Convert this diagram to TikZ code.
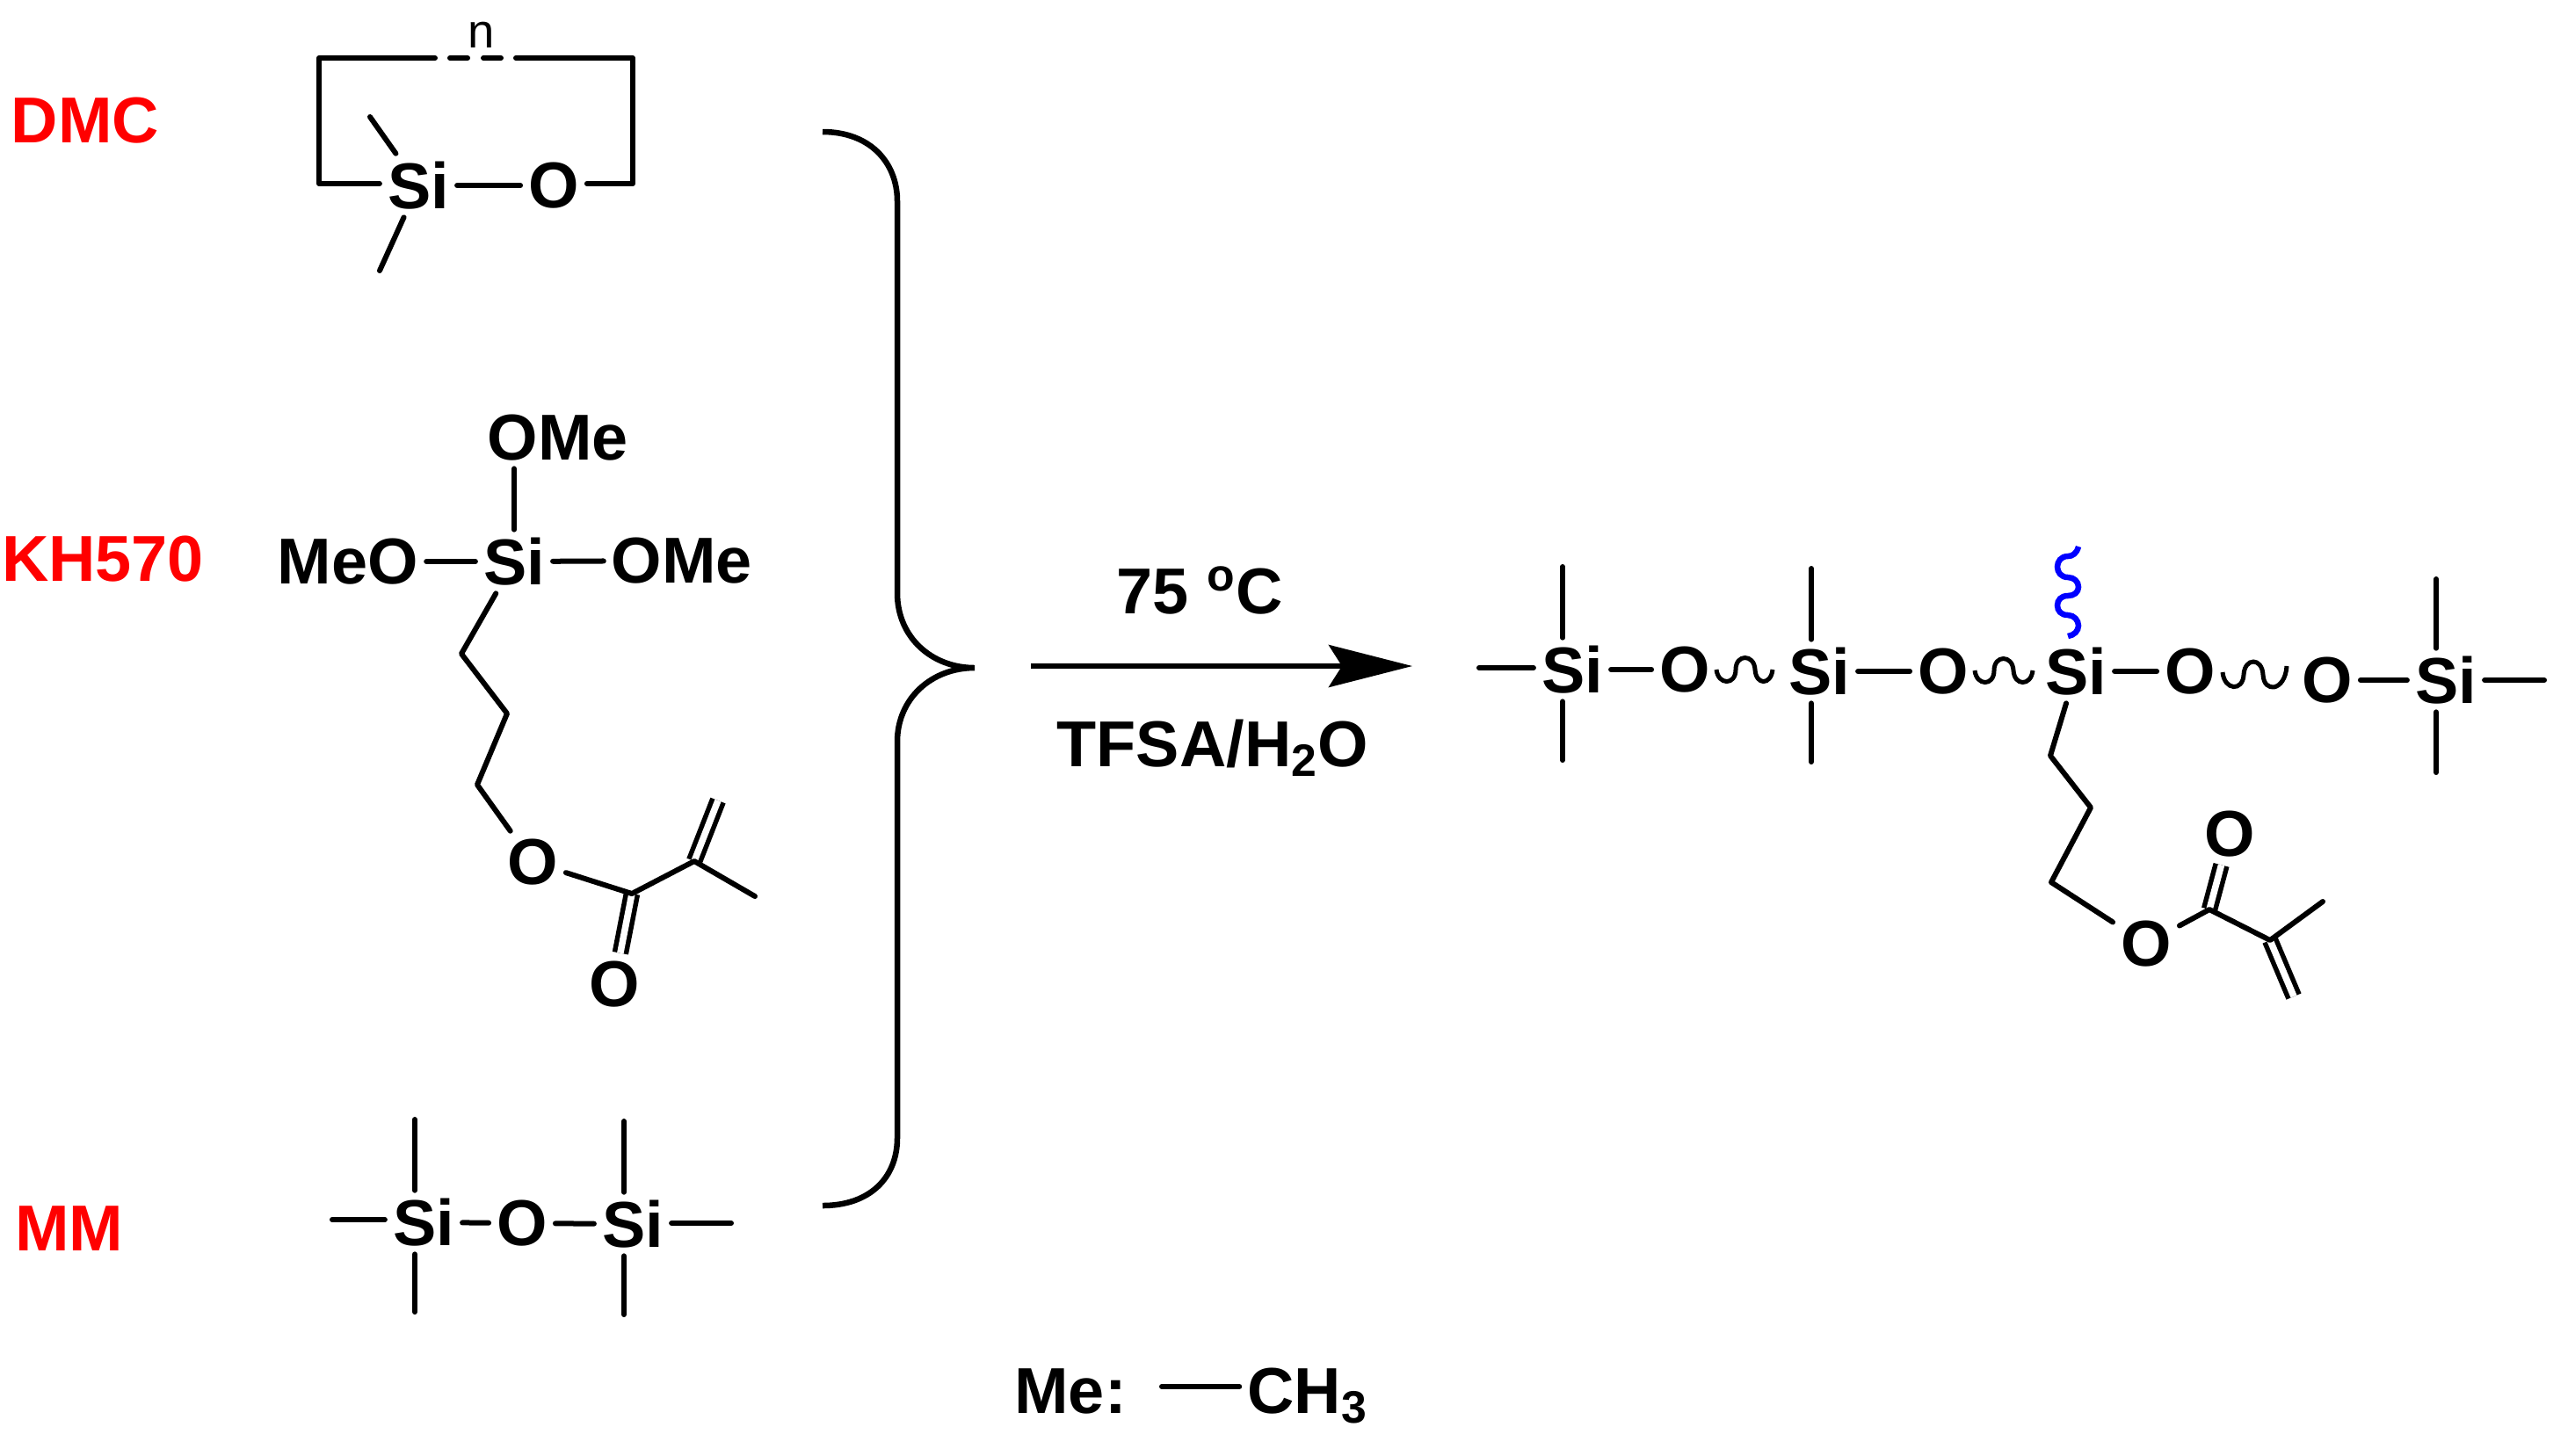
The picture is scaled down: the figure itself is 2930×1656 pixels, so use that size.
\documentclass[tikz,border=0pt]{standalone}
\usepackage{fontspec}
\setmainfont{Liberation Sans}
\usetikzlibrary{arrows.meta}
\begin{document}
\begin{tikzpicture}[x=0.01cm,y=-0.01cm,%
% common options for atoms and labels:
atom/.style = {font=\fontsize{21}{24}\selectfont\bfseries, inner sep=0.085cm},
tag/.style = {atom, text=red, inner sep=0},
% common options for the bonds:
bond/.style = {line width=0.06cm, line cap=round, line join=round},
twin/.style = {line width=0.055cm, double, double distance=0.075cm},
wave/.style = {line width=0.05cm}]
\useasboundingbox (0,0) rectangle (2930,1656);
% names of the reactants
\node[tag] (T1) at (97,137) {DMC};
\node[tag] (T2) at (117,636) {KH570};
\node[tag] (T3) at (79,1398) {MM};
% DMC
\node[atom] (D1) at (476,211) {Si};
\node[atom] (D2) at (630,211) {O};
\node[inner sep=0,font=\fontsize{15.5}{18}\selectfont] (D3) at (548,40) {n};
\coordinate (D4) at (421,133);
\coordinate (D5) at (432,308);
\coordinate (E1) at (363,209);
\coordinate (E2) at (363,66);
\coordinate (E3) at (495,66);
\coordinate (E4) at (512,66);
\coordinate (E5) at (570,66);
\coordinate (E6) at (587,66);
\coordinate (E7) at (720,66);
\coordinate (E8) at (720,209);
\draw[bond] (D1) -- (D2);
\draw[bond] (D1) -- (D4);
\draw[bond] (D1) -- (D5);
\draw[bond] (D1.west |- E1) -- (E1) -- (E2) -- (E3);
\draw[bond,dash pattern=on 0.2cm off 0.18cm] (E4) -- (E5);
\draw[bond] (E6) -- (E7) -- (E8) -- (D2.east |- E8);
% KH570
\node[atom] (K1) at (585,639) {Si};
\node[atom] (K2) at (635,498) {OMe};
\node[atom] (K3) at (396,639) {MeO};
\node[atom] (K4) at (776,638) {OMe};
\node[atom] (K5) at (606,981) {O};
\node[atom] (K6) at (699,1120) {O};
\coordinate (L1) at (525,744);
\coordinate (L2) at (577,812);
\coordinate (L3) at (543,893);
\coordinate (L4) at (719,1017);
\coordinate (L5) at (790,980);
\coordinate (L6) at (817,911);
\coordinate (L7) at (859,1020);
\draw[bond] (K1) -- (K1 |- K2.south);
\draw[bond] (K1) -- (K3);
\draw[bond] (K1) -- (K4);
\draw[bond] (K1) -- (L1) -- (L2) -- (L3) -- (K5);
\draw[twin] (L4) -- (K6);
\draw[twin] (L5) -- (L6);
\draw[bond] (K5) -- (L4) -- (L5) -- (L7);
% MM
\node[atom] (M1) at (482,1391) {Si};
\node[atom] (M2) at (594,1392) {O};
\node[atom] (M3) at (720,1393) {Si};
\coordinate (N1) at (378,1388);
\coordinate (N2) at (472,1274);
\coordinate (N3) at (472,1493);
\coordinate (N4) at (710,1276);
\coordinate (N5) at (710,1496);
\coordinate (N6) at (832,1392);
\draw[bond] (M1) -- (M2);
\draw[bond] (M2) -- (M3);
\draw[bond] (M1.west |- N1) -- (N1);
\draw[bond] (M1.north -| N2) -- (N2);
\draw[bond] (M1.south -| N3) -- (N3);
\draw[bond] (M3.north -| N4) -- (N4);
\draw[bond] (M3.south -| N5) -- (N5);
\draw[bond] (M3.east |- N6) -- (N6);
% brace
\draw[line width=0.065cm] (936,150) .. controls (990,150) and (1021,185) .. (1021,229)
  -- (1021,675) .. controls (1021,725) and (1060,760) .. (1109,760)
  .. controls (1060,760) and (1021,795) .. (1021,844)
  -- (1021,1295) .. controls (1021,1340) and (990,1372) .. (936,1372);
% reaction arrow and conditions
\coordinate (R1) at (1173,758);
\coordinate (R2) at (1607,758);
\draw[line width=0.06cm,-{Stealth[length=0.95cm,width=0.48cm,inset=0.15cm]}] (R1) -- (R2);
\node[atom] (R3) at (1365,672) {75 \textsuperscript{o}C};
\node[atom,anchor=base] (R4) at (1380,872) {TFSA/H\textsubscript{2}O};
% product
\node[atom] (P1) at (1789,762) {Si};
\node[atom] (P2) at (1917,762) {O};
\node[atom] (P3) at (2070,764) {Si};
\node[atom] (P4) at (2211,764) {O};
\node[atom] (P5) at (2362,764) {Si};
\node[atom] (P6) at (2492,764) {O};
\node[atom] (P7) at (2648,774) {O};
\node[atom] (P8) at (2783,774) {Si};
\node[atom] (P9) at (2442,1074) {O};
\node[atom] (P10) at (2537,949) {O};
\coordinate (Q1) at (1683,760);
\coordinate (Q2) at (1778,645);
\coordinate (Q3) at (1778,865);
\coordinate (Q4) at (2061,647);
\coordinate (Q5) at (2061,867);
\coordinate (Q6) at (2772,659);
\coordinate (Q7) at (2772,879);
\coordinate (Q8) at (2895,774);
\coordinate (Q9) at (2333,860);
\coordinate (Q10) at (2379,919);
\coordinate (Q11) at (2334,1004);
\coordinate (Q12) at (2514,1035);
\coordinate (Q13) at (2583,1070);
\coordinate (Q14) at (2643,1026);
\coordinate (Q15) at (2610,1134);
\draw[bond] (P1.west |- Q1) -- (Q1);
\draw[bond] (P1.north -| Q2) -- (Q2);
\draw[bond] (P1.south -| Q3) -- (Q3);
\draw[bond] (P3.north -| Q4) -- (Q4);
\draw[bond] (P3.south -| Q5) -- (Q5);
\draw[bond] (P8.north -| Q6) -- (Q6);
\draw[bond] (P8.south -| Q7) -- (Q7);
\draw[bond] (P8.east |- Q8) -- (Q8);
\draw[bond] (P1) -- (P2);
\draw[bond] (P3) -- (P4);
\draw[bond] (P5) -- (P6);
\draw[bond] (P7) -- (P8);
\draw[bond] (P5) -- (Q9) -- (Q10) -- (Q11) -- (P9);
\draw[twin] (Q12) -- (P10);
\draw[twin] (Q13) -- (Q15);
\draw[bond] (P9) -- (Q12) -- (Q13) -- (Q14);
% links of the chain
\draw[wave] (1953,762) .. controls (1955,780) and (1975,780) .. (1975,762)
  .. controls (1975,744) and (1996,744) .. (1997,762) .. controls (1998,780) and (2015,780) .. (2017,762);
\draw[wave] (2247,763) .. controls (2249,781) and (2269,781) .. (2269,763)
  .. controls (2269,745) and (2290,745) .. (2291,763) .. controls (2292,781) and (2311,781) .. (2313,763);
\draw[wave] (2529,765) .. controls (2531,786) and (2552,787) .. (2553,768)
  .. controls (2554,748) and (2574,748) .. (2575,768) .. controls (2576,789) and (2600,787) .. (2602,758);
\draw[blue,line width=0.065cm] (2365,622) .. controls (2363,630) and (2358,633) .. (2353,633)
  .. controls (2345,633) and (2341,639) .. (2341,645) .. controls (2341,651) and (2345,657) .. (2353,657)
  .. controls (2360,657) and (2365,662) .. (2365,668) .. controls (2365,674) and (2360,678) .. (2353,678)
  .. controls (2345,678) and (2341,683) .. (2341,689) .. controls (2341,695) and (2345,700) .. (2353,700)
  .. controls (2360,700) and (2365,706) .. (2365,712) .. controls (2365,718) and (2360,723) .. (2353,724);
% note
\node[atom,anchor=base] (V1) at (1218,1608) {Me:};
\node[atom,anchor=base] (V2) at (1488,1608) {CH\textsubscript{3}};
\coordinate (V3) at (1322,1578);
\draw[bond] (V3) -- (V3 -| V2.west);
\end{tikzpicture}
\end{document}
